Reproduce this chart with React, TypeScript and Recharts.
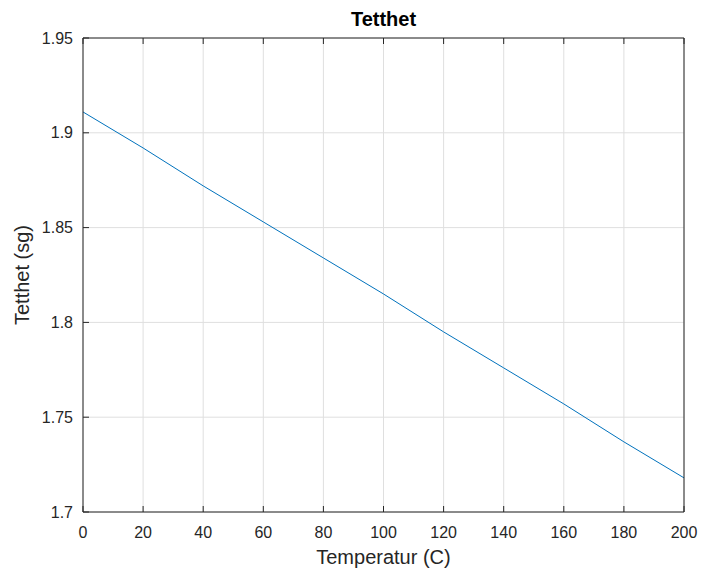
import { LineChart, Line, XAxis, YAxis, CartesianGrid } from 'recharts'

const temps = [0, 20, 40, 60, 80, 100, 120, 140, 160, 180, 200]
const density = [1.911, 1.892, 1.872, 1.853, 1.834, 1.815, 1.795, 1.776, 1.757, 1.737, 1.718]
const xTicks = [0, 20, 40, 60, 80, 100, 120, 140, 160, 180, 200]
const yTicks = [1.7, 1.75, 1.8, 1.85, 1.9, 1.95]

const data = temps.map((t, i) => ({ t, d: density[i] }))

const FONT = '"Liberation Sans", Arial, Helvetica, sans-serif'
const AX = '#262626'
const tickStyle = { fontSize: 16, fill: AX, fontFamily: FONT }

export default function App() {
  return (
    <div style={{ position: 'absolute', left: 0, top: 0, width: 701, height: 573, background: '#fff', fontFamily: FONT }}>
      <LineChart width={701} height={573} data={data} margin={{ top: 37, right: 16, bottom: 60, left: 82 }}>
        <CartesianGrid stroke="#dfdfdf" strokeWidth={1} />
        <XAxis dataKey="t" type="number" domain={[0, 200]} ticks={xTicks} height={1}
          tickSize={-6} tickMargin={21} tick={tickStyle} stroke={AX} tickLine={{ stroke: AX }} />
        <XAxis xAxisId="t" orientation="top" dataKey="t" type="number" domain={[0, 200]} ticks={xTicks} height={1}
          tickSize={-6} tick={() => <g />} stroke={AX} tickLine={{ stroke: AX }} />
        <YAxis type="number" domain={[1.7, 1.95]} ticks={yTicks} width={1}
          tickSize={-6} tickMargin={16} tick={tickStyle} stroke={AX} tickLine={{ stroke: AX }} />
        <YAxis yAxisId="r" orientation="right" type="number" domain={[1.7, 1.95]} ticks={yTicks} width={1}
          tickSize={-6} tick={() => <g />} stroke={AX} tickLine={{ stroke: AX }} />
        <Line dataKey="d" stroke="#0072BD" strokeWidth={1} dot={false} isAnimationActive={false} />
      </LineChart>
      <div style={{ position: 'absolute', left: 83, width: 601, top: 8, textAlign: 'center', fontSize: 20, fontWeight: 'bold', color: '#000' }}>
        Tetthet
      </div>
      <div style={{ position: 'absolute', left: 83, width: 601, top: 546, textAlign: 'center', fontSize: 20, color: AX }}>
        Temperatur (C)
      </div>
      <div style={{ position: 'absolute', left: 22, top: 275, width: 200, textAlign: 'center', fontSize: 20, color: AX, lineHeight: '20px',
        transform: 'translate(-50%, -50%) rotate(-90deg)' }}>
        Tetthet (sg)
      </div>
    </div>
  )
}
